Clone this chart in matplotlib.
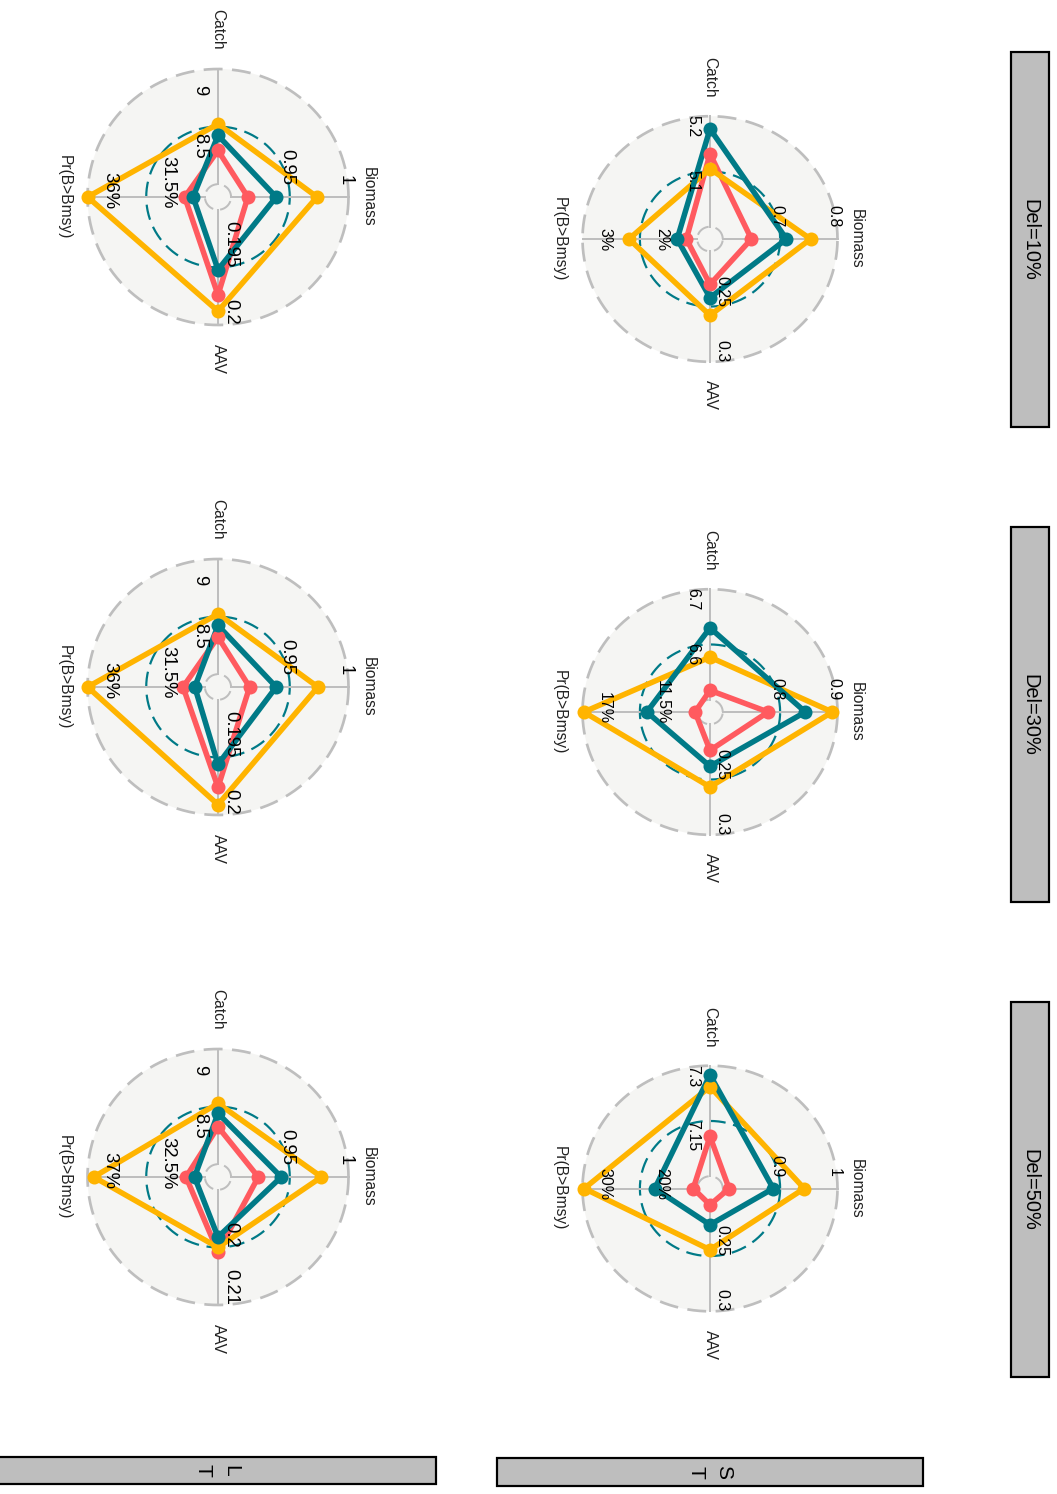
import numpy as np
import matplotlib.pyplot as plt
from matplotlib.patches import Rectangle

plt.rcParams["font.family"] = ["Liberation Sans", "DejaVu Sans"]

W, H, DPI = 1057, 1494, 72

axis_names = ["Catch", "Biomass", "AAV", "Pr(B>Bmsy)"]
scenario_labels = ["Del=10%", "Del=30%", "Del=50%"]
row_labels = ["S\nT", "L\nT"]
colours = ["#FF5A5F", "#FFB400", "#007A87"]

# values printed on the mid and outer rings (Catch, Biomass, AAV, Pr)
st_mid = [[5.1, 0.7, 0.25, 2], [6.6, 0.8, 0.25, 11.5], [7.15, 0.9, 0.25, 20]]
st_top = [[5.2, 0.8, 0.3, 3], [6.7, 0.9, 0.3, 17], [7.3, 1, 0.3, 30]]
lt_mid = [[8.5, 0.95, 0.195, 31.5], [8.5, 0.95, 0.195, 31.5], [8.5, 0.95, 0.2, 32.5]]
lt_top = [[9, 1, 0.2, 36], [9, 1, 0.2, 36], [9, 1, 0.21, 37]]

# one row per procedure (red, yellow, teal), columns follow axis_names
st_del10 = [[5.132, 0.650, 0.2300, 1.19],
            [5.105, 0.753, 0.2580, 2.19],
            [5.177, 0.711, 0.2420, 1.35]]
st_del30 = [[6.517, 0.779, 0.2236, 6.21],
            [6.577, 0.891, 0.2567, 16.88],
            [6.630, 0.844, 0.2380, 10.83]]
st_del50 = [[7.108, 0.811, 0.2037, 10.7],
            [7.243, 0.942, 0.2443, 29.7],
            [7.275, 0.888, 0.2217, 17.4]]
lt_del10 = [[8.293, 0.9143, 0.1974, 28.55],
            [8.523, 0.9732, 0.1988, 35.99],
            [8.423, 0.9384, 0.1952, 27.91]]
lt_del30 = [[8.322, 0.9158, 0.1976, 28.68],
            [8.523, 0.9739, 0.1991, 35.99],
            [8.423, 0.9384, 0.1956, 27.78]]
lt_del50 = [[8.324, 0.9232, 0.2008, 29.45],
            [8.528, 0.9770, 0.2000, 36.52],
            [8.441, 0.9427, 0.1982, 28.80]]

DIRS = np.array([[0, 1], [1, 0], [0, -1], [-1, 0]])  # Catch up, Biomass right, AAV down, Pr left
GREY = "#BEBEBE"
DASH = (0, (7, 3.5))


def to_radius(vals, mid, top):
    """Mid ring value -> 0.5, outer ring value -> 1, then leave a hole of 1/9 in the middle."""
    mid, top = np.asarray(mid, float), np.asarray(top, float)
    n = 0.5 + (np.asarray(vals, float) - mid) / (2 * (top - mid))
    return (9 * n + 1) / 10


def radar(ax, values, mid, top, tick_size, catch_shift):
    t = np.linspace(0, 2 * np.pi, 400)
    cx, cy = np.cos(t), np.sin(t)
    ax.fill(cx, cy, color="#F5F5F3", lw=0, zorder=0)
    ax.plot(cx, cy, color=GREY, lw=2.7, ls=DASH, zorder=1)
    ax.plot(0.55 * cx, 0.55 * cy, color="#007A87", lw=2.2, ls=DASH, zorder=1)
    ax.plot(0.1 * cx, 0.1 * cy, color=GREY, lw=2.0, ls=DASH, zorder=1)
    for dx, dy in DIRS:
        ax.plot([0.1 * dx, dx], [0.1 * dy, dy], color=GREY, lw=2.0, zorder=1)

    pts = []
    for vals, col in zip(values, colours):
        r = to_radius(vals, mid, top)
        x, y = r * DIRS[:, 0], r * DIRS[:, 1]
        ax.plot(np.append(x, x[0]), np.append(y, y[0]), color=col, lw=5.5,
                solid_joinstyle="round", zorder=2)
        pts.append((x, y, col))
    for x, y, col in pts:
        ax.plot(x, y, "o", color=col, ms=14, mew=0, zorder=3)

    # ring values along each spoke
    for k, (dx, dy) in enumerate(DIRS):
        for ring, v, shift in ((1.0, top[k], catch_shift[0]), (0.55, mid[k], catch_shift[1])):
            s = f"{v:g}" + ("%" if k == 3 else "")
            if k == 0:
                off, ha, va = (-9.5, shift), "right", "top"
            elif k == 1:
                off, ha, va = (-3.5, 11.5), "center", "bottom"
            elif k == 2:
                off, ha, va = (4.5, 0), "left", "bottom"
            else:
                off, ha, va = (22, -12), "center", "bottom"
            ax.annotate(s, (ring * dx, ring * dy), xytext=off, textcoords="offset pixels",
                        rotation=270, ha=ha, va=va, fontsize=tick_size, color="black",
                        annotation_clip=False, zorder=4)

    # spoke names
    name_pos = [((0, 1.15), (0, 0), "center", "bottom"),
                ((1.15, 0), (0, 0), "center", "center"),
                ((0, -1.15), (0, 0), "center", "top"),
                ((-1.15, 0), (-4, 0), "center", "center")]
    for name, (xy, off, ha, va) in zip(axis_names, name_pos):
        ax.annotate(name, xy, xytext=off, textcoords="offset pixels", rotation=270,
                    ha=ha, va=va, fontsize=15.5, color="#222222", annotation_clip=False)


def add_panel(fig, cx, cy, rx, ry):
    hw = hh = 235
    ax = fig.add_axes([(cx - hw) / W, 1 - (cy + hh) / H, 2 * hw / W, 2 * hh / H])
    ax.set_xlim(-hw / rx, hw / rx)
    ax.set_ylim(-hh / ry, hh / ry)
    ax.axis("off")
    return ax


def strip(fig, x0, y0, x1, y1, text, size, **kw):
    fig.add_artist(Rectangle((x0 / W, 1 - y1 / H), (x1 - x0) / W, (y1 - y0) / H,
                             transform=fig.transFigure, fc=GREY, ec="black", lw=2.2))
    fig.text((x0 + x1) / 2 / W, 1 - (y0 + y1) / 2 / H, text, rotation=270,
             ha="center", va="center", fontsize=size, color="black", **kw)


fig = plt.figure(figsize=(W / DPI, H / DPI), dpi=DPI)
fig.patch.set_facecolor("white")

st_sets = [st_del10, st_del30, st_del50]
lt_sets = [lt_del10, lt_del30, lt_del50]
st_centres = [239, 712, 1188.5]
lt_centres = [197, 687, 1177]

for i in range(3):
    ax = add_panel(fig, 710, st_centres[i], 127.5, 122.8)
    radar(ax, st_sets[i], st_mid[i], st_top[i], 16, (1, 1))
    ax = add_panel(fig, 218, lt_centres[i], 130.5, 128)
    radar(ax, lt_sets[i], lt_mid[i], lt_top[i], 18.5, (-16, -6))

for i, lab in enumerate(scenario_labels):
    y0 = 52 + 475 * i
    strip(fig, 1011, y0, 1049, y0 + 375, lab, 20)

strip(fig, 497, 1458, 923, 1486, row_labels[0], 21, linespacing=1.6)
strip(fig, -3, 1457, 436, 1484, row_labels[1], 21, linespacing=1.6)

fig.savefig("out.png", dpi=DPI, facecolor="white")
